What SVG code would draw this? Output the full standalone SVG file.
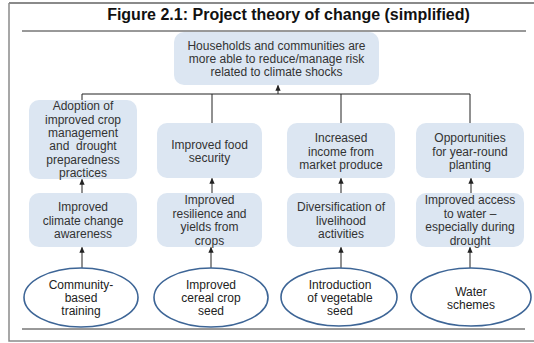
<svg xmlns="http://www.w3.org/2000/svg" width="534" height="343" viewBox="0 0 534 343">
<defs>
<marker id="ah" viewBox="0 0 8 8" refX="7" refY="4" markerWidth="6" markerHeight="6" orient="auto" markerUnits="userSpaceOnUse">
<path d="M0,0.5 L8,4 L0,7.5 z" fill="#222"/>
</marker>
<style>
.box{fill:#dce6f2;stroke:none}
.ell{fill:#fff;stroke:#3d6596;stroke-width:1.6}
.t{font-family:"Liberation Sans",Arial,sans-serif;font-size:12px;fill:#333;text-anchor:middle}
.te{font-family:"Liberation Sans",Arial,sans-serif;font-size:12px;fill:#222;text-anchor:middle}
.ln{stroke:#222;stroke-width:1;fill:none}
.ar{stroke:#222;stroke-width:1;fill:none;marker-end:url(#ah)}
.frame{stroke:#8a8a8a;fill:none}
</style>
</defs>
<rect x="0" y="0" width="534" height="343" fill="#fff"/>
<path class="frame" d="M9,3 H534" stroke-width="2"/>
<path class="frame" d="M9,3 V341 H534" stroke-width="1.5" stroke="#777"/>
<text x="288.5" y="20" font-family="'Liberation Sans',Arial,sans-serif" font-size="16" font-weight="bold" fill="#111" text-anchor="middle">Figure 2.1: Project theory of change (simplified)</text>
<path d="M22,31 H526" stroke="#333" stroke-width="1"/>
<path d="M22,329 H525" stroke="#333" stroke-width="1"/>

<g id="connectors">
<path class="ar" d="M278,94 V85.5"/>
<path class="ln" d="M82,100 V94 H470 V123"/>
<path class="ln" d="M212,94 V123"/>
<path class="ln" d="M341,94 V123"/>
<path class="ar" d="M82,193 V179.5"/>
<path class="ar" d="M212,193 V178.5"/>
<path class="ar" d="M341,193 V178.5"/>
<path class="ar" d="M471,193 V178.5"/>
<path class="ar" d="M82,268 V247.5"/>
<path class="ar" d="M211,268 V247.5"/>
<path class="ar" d="M341,268 V247.5"/>
<path class="ar" d="M470,268 V247.5"/>
</g>

<g id="goal">
<rect class="box" x="174" y="32" width="205" height="53" rx="10"/>
<text class="t" x="276.5" y="50">Households and communities are</text>
<text class="t" x="276.5" y="63">more able to reduce/manage risk</text>
<text class="t" x="276.5" y="76">related to climate shocks</text>
</g>

<g id="outcome1">
<rect class="box" x="29" y="100" width="108" height="79" rx="10"/>
<text class="t" x="83" y="110">Adoption of</text>
<text class="t" x="83" y="124">improved crop</text>
<text class="t" x="83" y="137">management</text>
<text class="t" x="83" y="150">and&#160; drought</text>
<text class="t" x="83" y="164">preparedness</text>
<text class="t" x="83" y="177">practices</text>
</g>
<g id="outcome2">
<rect class="box" x="157" y="123" width="105" height="55" rx="10"/>
<text class="t" x="209.5" y="149">Improved food</text>
<text class="t" x="209.5" y="162">security</text>
</g>
<g id="outcome3">
<rect class="box" x="287" y="123" width="108" height="55" rx="10"/>
<text class="t" x="341" y="142">Increased</text>
<text class="t" x="341" y="156">income from</text>
<text class="t" x="341" y="169">market produce</text>
</g>
<g id="outcome4">
<rect class="box" x="416" y="123" width="108" height="55" rx="10"/>
<text class="t" x="470" y="142">Opportunities</text>
<text class="t" x="470" y="156">for year-round</text>
<text class="t" x="470" y="169">planting</text>
</g>

<g id="output1">
<rect class="box" x="29" y="193" width="108" height="54" rx="10"/>
<text class="t" x="83" y="211">Improved</text>
<text class="t" x="83" y="225">climate change</text>
<text class="t" x="83" y="238">awareness</text>
</g>
<g id="output2">
<rect class="box" x="157" y="193" width="105" height="54" rx="10"/>
<text class="t" x="209.5" y="204">Improved</text>
<text class="t" x="209.5" y="218">resilience and</text>
<text class="t" x="209.5" y="231">yields from</text>
<text class="t" x="209.5" y="245">crops</text>
</g>
<g id="output3">
<rect class="box" x="287" y="193" width="108" height="54" rx="10"/>
<text class="t" x="341" y="211">Diversification of</text>
<text class="t" x="341" y="225">livelihood</text>
<text class="t" x="341" y="238">activities</text>
</g>
<g id="output4">
<rect class="box" x="416" y="193" width="108" height="54" rx="10"/>
<text class="t" x="470" y="204">Improved access</text>
<text class="t" x="470" y="218">to water –</text>
<text class="t" x="470" y="231">especially during</text>
<text class="t" x="470" y="245">drought</text>
</g>

<g id="input1">
<ellipse class="ell" cx="81" cy="297.5" rx="57" ry="29.5"/>
<text class="te" x="81" y="289">Community-</text>
<text class="te" x="81" y="302">based</text>
<text class="te" x="81" y="315">training</text>
</g>
<g id="input2">
<ellipse class="ell" cx="211" cy="297.5" rx="57" ry="29.5"/>
<text class="te" x="211" y="289">Improved</text>
<text class="te" x="211" y="302">cereal crop</text>
<text class="te" x="211" y="315">seed</text>
</g>
<g id="input3">
<ellipse class="ell" cx="339" cy="297" rx="58" ry="29"/>
<text class="te" x="340" y="289">Introduction</text>
<text class="te" x="340" y="302">of vegetable</text>
<text class="te" x="340" y="315">seed</text>
</g>
<g id="input4">
<ellipse class="ell" cx="471" cy="297" rx="60" ry="29"/>
<text class="te" x="471" y="296">Water</text>
<text class="te" x="471" y="309">schemes</text>
</g>
</svg>
